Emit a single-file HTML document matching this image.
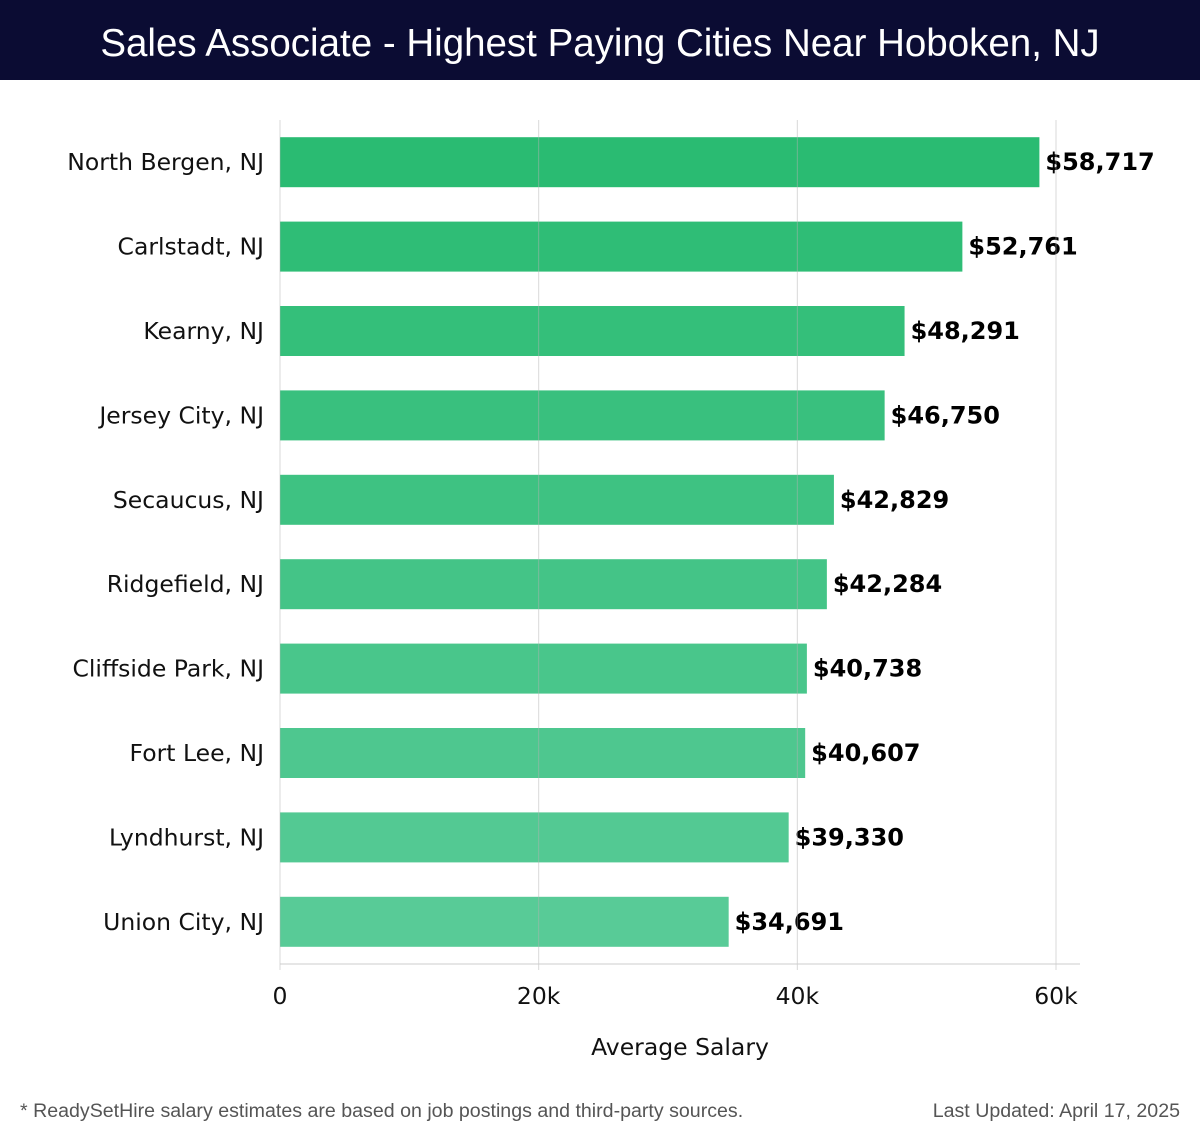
<!DOCTYPE html>
<html><head><meta charset="utf-8"><style>
body{margin:0;width:1200px;height:1140px;background:#fff;overflow:hidden;font-family:"DejaVu Sans","Liberation Sans",sans-serif}
#hdr{position:absolute;left:0;top:0;width:1200px;height:80px;background:#0b0c33;color:#fff;font-size:38.5px;text-align:center;line-height:88px;font-family:"Liberation Sans",sans-serif}
.ft{position:absolute;top:1100px;font-size:19.6px;color:#555;font-family:"Liberation Sans",sans-serif}
</style></head><body>
<div id="hdr">Sales Associate - Highest Paying Cities Near Hoboken, NJ</div>
<svg id="chart" width="1200" height="1090" style="position:absolute;left:0;top:0"></svg>
<div class="ft" style="left:20px">* ReadySetHire salary estimates are based on job postings and third-party sources.</div>
<div class="ft" style="right:20px">Last Updated: April 17, 2025</div>
<script>
const categories=["North Bergen, NJ","Carlstadt, NJ","Kearny, NJ","Jersey City, NJ","Secaucus, NJ","Ridgefield, NJ","Cliffside Park, NJ","Fort Lee, NJ","Lyndhurst, NJ","Union City, NJ"];
const values=[58717,52761,48291,46750,42829,42284,40738,40607,39330,34691];
const ticks=[0,20000,40000,60000];
const tickLabels=["0","20k","40k","60k"];
const NS="http://www.w3.org/2000/svg";
const svg=document.getElementById('chart');
const x0=280,x1=1056,xmax=60000,top0=120,bot=964;
const step=(bot-top0)/categories.length;
const xs=v=>x0+(x1-x0)*v/xmax;
const yc=i=>top0+step*(i+0.5);
function mk(t,a){const e=document.createElementNS(NS,t);for(const k in a)e.setAttribute(k,a[k]);svg.appendChild(e);return e;}
const colA=[42,187,114],colB=[88,203,151];
categories.forEach((c,i)=>{
  const f=i/(categories.length-1);
  const col=`rgb(${colA.map((a,j)=>Math.round(a+(colB[j]-a)*f)).join(',')})`;
  const r=mk('rect',{x:x0,y:yc(i)-25,width:xs(values[i])-x0,height:50,fill:col});
  
  
  const t=mk('text',{x:x0-16,y:yc(i)+8,'text-anchor':'end','font-size':23.5,fill:'#111'});
  t.textContent=c;
  
  
  const v=mk('text',{x:xs(values[i])+6,y:yc(i)+8,'font-size':24,'font-weight':'bold',fill:'#000'});
  v.textContent='$'+values[i].toLocaleString('en-US');
  
  
});
ticks.forEach((tk,i)=>{
  const g=mk('line',{x1:xs(tk),x2:xs(tk),y1:top0,y2:970,stroke:'rgba(180,180,180,0.5)','stroke-width':1});
  
  
  const l=mk('text',{x:xs(tk),y:1004,'text-anchor':'middle','font-size':23.5,fill:'#111'});
  l.textContent=tickLabels[i];
  
  
});
const ax=mk('line',{x1:x0,x2:1080,y1:bot,y2:bot,stroke:'#ccc','stroke-width':1});


const at=mk('text',{x:680,y:1055,'text-anchor':'middle','font-size':23.5,fill:'#111'});
at.textContent='Average Salary';


</script>
</body></html>
